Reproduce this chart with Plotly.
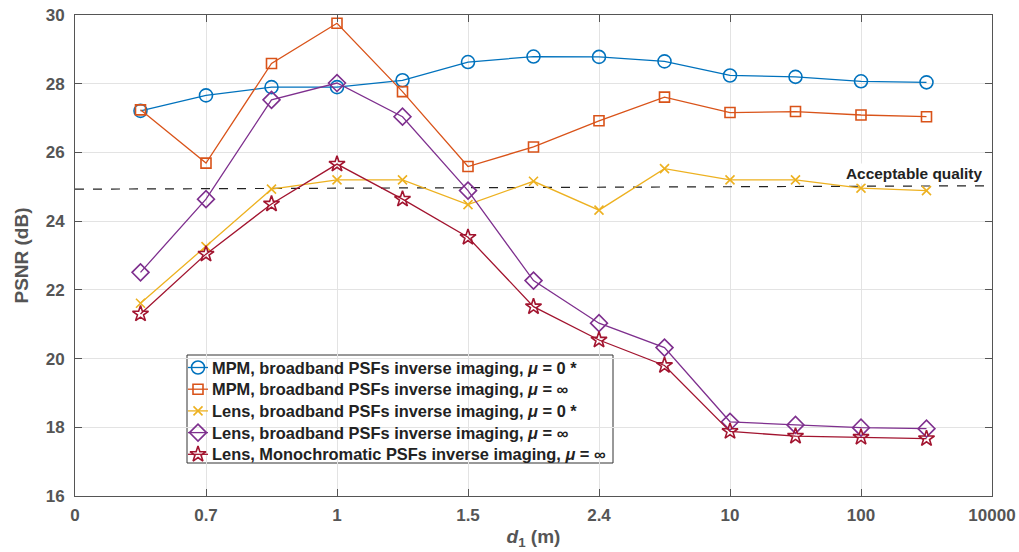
import plotly.graph_objects as go

# x positions on the evenly-spaced category axis
tick_pos = [0, 1, 2, 3, 4, 5, 6, 7]
tick_labels = ["0", "0.7", "1", "1.5", "2.4", "10", "100", "10000"]
y_ticks = [16, 18, 20, 22, 24, 26, 28, 30]
x_index = [0.5, 1, 1.5, 2, 2.5, 3, 3.5, 4, 4.5, 5, 5.5, 6, 6.5]

mpm_bb_mu0 = [27.21, 27.66, 27.90, 27.90, 28.10, 28.63, 28.79, 28.78, 28.65, 28.24, 28.20, 28.07, 28.04]
mpm_bb_inf = [27.24, 25.69, 28.59, 29.76, 27.77, 25.59, 26.16, 26.92, 27.61, 27.16, 27.19, 27.09, 27.04]
lens_bb_mu0 = [21.61, 23.26, 24.93, 25.20, 25.20, 24.48, 25.16, 24.32, 25.53, 25.20, 25.20, 24.96, 24.89]
lens_bb_inf = [22.51, 24.64, 27.53, 28.02, 27.04, 24.89, 22.27, 21.03, 20.32, 18.16, 18.07, 17.99, 17.96]
lens_mono_inf = [21.30, 23.04, 24.50, 25.66, 24.64, 23.53, 21.51, 20.54, 19.80, 17.88, 17.74, 17.71, 17.67]

accept_x = [0, 7]
accept_y = [24.93, 25.03]

series = [
    ("MPM, broadband PSFs inverse imaging, <i>μ</i> = 0 *", mpm_bb_mu0, "#0072BD", "circle-open", 13),
    ("MPM, broadband PSFs inverse imaging, <i>μ</i> = ∞", mpm_bb_inf, "#D95319", "square-open", 10),
    ("Lens, broadband PSFs inverse imaging, <i>μ</i> = 0 *", lens_bb_mu0, "#EDB120", "x-thin-open", 9),
    ("Lens, broadband PSFs inverse imaging, <i>μ</i> = ∞", lens_bb_inf, "#7E2F8E", "diamond-open", 13),
    ("Lens, Monochromatic PSFs inverse imaging, <i>μ</i> = ∞", lens_mono_inf, "#A2142F", "star-open", 12),
]

font_family = "Liberation Sans, Arial, sans-serif"
axis_col = "#555555"

# plot-area geometry (px) used to place the hand-built legend
PL, PR, PT, PB = 75, 992, 15, 496
def px_x(p):
    return (p - PL) / (PR - PL)
def px_y(p):
    return (PB - p) / (PB - PT)

fig = go.Figure()
fig.add_trace(go.Scatter(x=accept_x, y=accept_y, mode="lines",
                         line=dict(color="#222222", width=1.2, dash="dash"),
                         showlegend=False, hoverinfo="skip"))
for name, ys, col, sym, sz in series:
    fig.add_trace(go.Scatter(
        x=x_index, y=ys, mode="lines+markers", name=name, showlegend=False,
        line=dict(color=col, width=1.3),
        marker=dict(symbol=sym, size=sz, color=col, line=dict(color=col, width=1.6)),
    ))

# legend box
fig.add_shape(type="rect", xref="paper", yref="paper",
              x0=px_x(187), x1=px_x(613), y0=px_y(463), y1=px_y(355),
              fillcolor="white", line=dict(color="#333333", width=1), layer="between")

# legend keys and texts
leg_top, leg_step = 367.5, 21.7
for i, (name, ys, col, sym, sz) in enumerate(series):
    yy = px_y(leg_top + i * leg_step)
    fig.add_trace(go.Scatter(
        x=[px_x(188), px_x(198), px_x(208)], y=[yy, yy, yy], xaxis="x2", yaxis="y2",
        mode="lines+markers", showlegend=False, hoverinfo="skip",
        line=dict(color=col, width=1.3),
        marker=dict(symbol=sym, size=sz, color=col, opacity=[0, 1, 0],
                    line=dict(color=col, width=1.6)),
    ))
    fig.add_annotation(x=px_x(210), y=yy, xref="paper", yref="paper",
                       xanchor="left", yanchor="middle", showarrow=False, text=name,
                       font=dict(family=font_family, size=16.4, color="#222222", weight="bold"))

fig.add_annotation(x=px_x(984), y=px_y(173), xref="paper", yref="paper",
                   xanchor="right", yanchor="middle",
                   text="Acceptable quality", showarrow=False,
                   font=dict(family=font_family, size=15.4, color="#222222", weight="bold"),
                   bgcolor="white", borderpad=1)

axis_common = dict(
    showgrid=True, gridcolor="#e3e3e3", gridwidth=1,
    showline=True, linecolor=axis_col, linewidth=1, mirror="ticks",
    ticks="inside", ticklen=7, tickcolor=axis_col,
    tickfont=dict(size=17, color=axis_col, weight="bold"), zeroline=False,
    automargin=False,
)

fig.update_layout(
    width=1019, height=552,
    margin=dict(l=PL, r=1019 - PR, t=PT, b=552 - PB),
    paper_bgcolor="white", plot_bgcolor="white",
    font=dict(family=font_family, color=axis_col),
    showlegend=False,
    xaxis=dict(range=[0, 7], tickvals=tick_pos, ticktext=tick_labels, ticklabelstandoff=4,
               title=dict(text="<i>d</i><sub>1</sub> (m)",
                          font=dict(size=19, color=axis_col, weight="bold"), standoff=5),
               **axis_common),
    yaxis=dict(range=[16, 30], tickvals=y_ticks, ticktext=[str(v) for v in y_ticks], ticklabelstandoff=6,
               title=dict(text="PSNR (dB)", font=dict(size=19, color=axis_col, weight="bold"), standoff=12),
               **axis_common),
    xaxis2=dict(range=[0, 1], overlaying="x", visible=False, anchor="y2"),
    yaxis2=dict(range=[0, 1], overlaying="y", visible=False, anchor="x2"),
)

fig.write_html("out.html")
